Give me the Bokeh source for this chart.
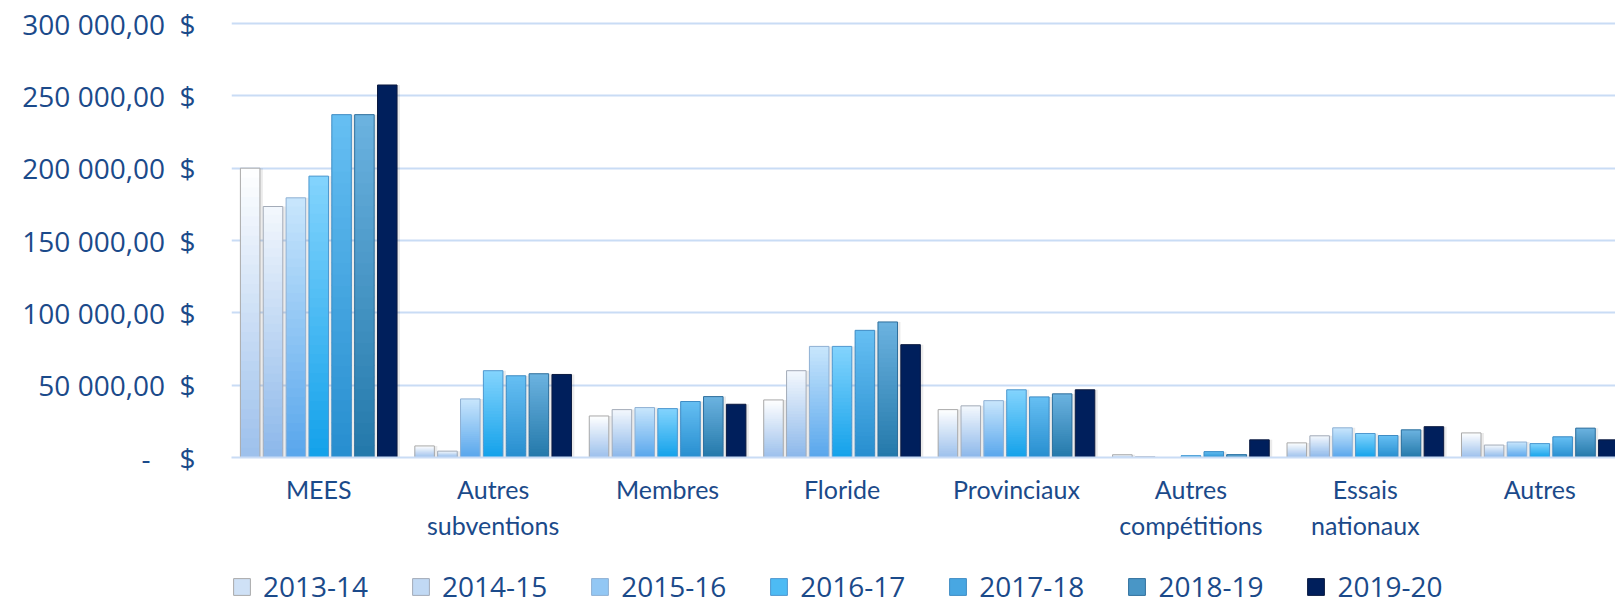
from bokeh.plotting import figure
from bokeh.layouts import column
from bokeh.models import Range1d, FixedTicker, ColumnDataSource, Legend, LegendItem
from bokeh.embed import file_html
from bokeh.resources import INLINE

# ---------------- data ----------------
categories = ["MEES", "Autres\nsubventions", "Membres", "Floride", "Provinciaux",
              "Autres\ncompétitions", "Essais\nnationaux", "Autres"]
years = ["2013-14", "2014-15", "2015-16", "2016-17", "2017-18", "2018-19", "2019-20"]

v2013_14 = [200000, 8000, 28700, 39800, 33100, 1900, 10100, 17000]
v2014_15 = [173500, 4400, 33100, 60000, 35700, 500, 15000, 8600]
v2015_16 = [179500, 40500, 34500, 76800, 39300, 0, 20500, 10700]
v2016_17 = [194500, 60000, 33800, 76800, 46800, 1200, 16600, 9600]
v2017_18 = [237000, 56500, 38700, 87900, 41900, 4000, 15200, 14300]
v2018_19 = [237000, 57900, 42100, 93700, 44000, 1900, 19100, 20300]
v2019_20 = [257500, 57400, 36800, 78000, 46800, 12200, 21300, 12200]
series = [v2013_14, v2014_15, v2015_16, v2016_17, v2017_18, v2018_19, v2019_20]

y_ticks = [0, 50000, 100000, 150000, 200000, 250000, 300000]
NB = "\u00a0"
y_tick_labels = ["-" + NB * 4 + "$",
                 "50" + NB + "000,00" + NB * 2 + "$",
                 "100" + NB + "000,00" + NB * 2 + "$",
                 "150" + NB + "000,00" + NB * 2 + "$",
                 "200" + NB + "000,00" + NB * 2 + "$",
                 "250" + NB + "000,00" + NB * 2 + "$",
                 "300" + NB + "000,00" + NB * 2 + "$"]

# ---------------- styles ----------------
top_colors = ["#ffffff", "#f4f8fd", "#c9e6fc", "#84d4fd", "#66bff3", "#6cb3e0", "#001f5c"]
bottom_colors = ["#9cc0ec", "#8bb7ea", "#58a6ec", "#12a1ea", "#278ecf", "#2378aa", "#001f5c"]
border_colors = ["#a9a9a9", "#a3abb8", "#8fb0d3", "#4f98cf", "#3f8cc4", "#2f6f9c", "#0b1a40"]
TXT = "#1b4a8a"
GRID = "#c9dcf5"
N_SLICES = 30
PITCH = 0.131
BAR_W = 0.112
Y_END = 315900
OVERLAP = 900


def hex2rgb(h):
    h = h.lstrip("#")
    return [int(h[i:i + 2], 16) for i in (0, 2, 4)]


def mix(c1, c2, t):
    a, b = hex2rgb(c1), hex2rgb(c2)
    return "#%02x%02x%02x" % tuple(int(round(a[i] + (b[i] - a[i]) * t)) for i in range(3))


p = figure(width=1615, height=556, min_border_left=231, min_border_right=0,
           min_border_top=0, min_border_bottom=99,
           x_range=Range1d(0, 7.934), y_range=Range1d(0, Y_END),
           output_backend="svg", toolbar_location=None, background_fill_color="white",
           border_fill_color="white")
p.outline_line_color = None
p.xgrid.grid_line_color = None
p.ygrid.grid_line_color = GRID
p.ygrid.grid_line_width = 2
p.ygrid.ticker = FixedTicker(ticks=y_ticks)

# legend strip (a second figure below the chart)
pl = figure(width=1615, height=49, min_border=0, x_range=Range1d(-10, -9),
            y_range=Range1d(0, 1), output_backend="svg", toolbar_location=None,
            x_axis_location=None, y_axis_location=None)
pl.outline_line_color = None
pl.grid.visible = False

legend_items = []
for j, vals in enumerate(series):
    xs, bottoms, tops, cols = [], [], [], []
    n = 1 if top_colors[j] == bottom_colors[j] else N_SLICES
    for i, v in enumerate(vals):
        xc = i + 0.5 + (j - 3) * PITCH
        for k in range(n):
            xs.append(xc)
            bottoms.append(v * k / n)
            tops.append(min(v, v * (k + 1) / n + OVERLAP))
            cols.append(mix(bottom_colors[j], top_colors[j], (k + 0.5) / n))
    # soft shadow
    sx = [i + 0.5 + (j - 3) * PITCH + 0.012 for i in range(len(vals))]
    p.vbar(x=sx, width=BAR_W + 0.01, top=[v for v in vals], bottom=-2500,
           fill_color="#000000", fill_alpha=0.08, line_color=None)
    src = ColumnDataSource(dict(x=xs, bottom=bottoms, top=tops, color=cols))
    p.vbar(x="x", width=BAR_W, top="top", bottom="bottom", source=src,
           fill_color="color", line_color=None)
    ox = [i + 0.5 + (j - 3) * PITCH for i in range(len(vals))]
    p.vbar(x=ox, width=BAR_W, top=vals, bottom=0, fill_color=None,
           line_color=border_colors[j], line_width=1)
    rl = pl.vbar(x="x", width=BAR_W, top="top", bottom="bottom", source=src,
                 fill_color="color", line_color=border_colors[j], line_width=1)
    legend_items.append(LegendItem(label=years[j], renderers=[rl], index=n // 2))

# axes
p.yaxis.ticker = FixedTicker(ticks=y_ticks)
p.yaxis.major_label_overrides = {t: l for t, l in zip(y_ticks, y_tick_labels)}
p.yaxis.major_label_text_font = "Open Sans"
p.yaxis.major_label_text_font_size = "28px"
p.yaxis.major_label_text_color = TXT
p.yaxis.major_label_standoff = 30
p.yaxis.axis_line_color = None
p.yaxis.major_tick_line_color = None
p.yaxis.minor_tick_line_color = None

x_ticks = [i + 0.5 for i in range(len(categories))]
p.xaxis.ticker = FixedTicker(ticks=x_ticks)
p.xaxis.major_label_overrides = {t: c for t, c in zip(x_ticks, categories)}
p.xaxis.major_label_text_font = "Lato"
p.xaxis.major_label_text_font_size = "25px"
p.xaxis.major_label_text_color = TXT
p.xaxis.major_label_text_line_height = 1.2
p.xaxis.major_label_standoff = 10
p.xaxis.axis_line_color = GRID
p.xaxis.axis_line_width = 2
p.xaxis.major_tick_line_color = None
p.xaxis.minor_tick_line_color = None

legend = Legend(items=legend_items, orientation="horizontal", location=(0, 0),
                glyph_width=21, glyph_height=21, label_standoff=11, spacing=42,
                label_text_font="Open Sans", label_text_font_size="28px",
                label_text_color=TXT, border_line_color=None, padding=0,
                margin=0, background_fill_alpha=0)
pl.add_layout(legend, "center")

layout = column(p, pl, spacing=0)
open("out.html", "w").write(file_html(layout, INLINE))
